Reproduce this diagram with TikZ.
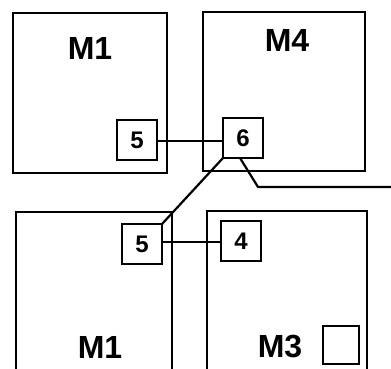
\documentclass[tikz,border=0pt]{standalone}
\usepackage{fontspec}
\setmainfont{Liberation Sans}
\begin{document}
\begin{tikzpicture}[x=1pt,y=-1pt,line width=2.6pt,
  modbox/.style={draw, rectangle, inner sep=0pt, outer sep=0pt, anchor=north west},
  openbox/.style={rectangle, inner sep=0pt, outer sep=0pt, anchor=north west},
  port/.style={draw, rectangle, inner sep=0pt, outer sep=0pt, minimum width=40pt, minimum height=40pt, font=\bfseries\fontsize{24}{24}\selectfont},
  modlabel/.style={inner sep=0pt, font=\bfseries\fontsize{32}{32}\selectfont},
  wire/.style={line width=2.2pt}]
\useasboundingbox (0,0) rectangle (391,369);
% top modules
\node[modbox, minimum width=154pt, minimum height=160pt] (m1a) at (13,13) {};
\node[modbox, minimum width=162pt, minimum height=159pt] (m4) at (203,12) {};
% bottom modules (open at the bottom)
\node[openbox, minimum width=156pt, minimum height=160pt] (m1b) at (16,212) {};
\node[openbox, minimum width=160pt, minimum height=161pt] (m3) at (207,211) {};
\draw (m1b.south west) |- (m1b.north east) -- (m1b.south east);
\draw (m3.south west) |- (m3.north east) -- (m3.south east);
% labels
\node[modlabel] (l1a) at (90,48) {M1};
\node[modlabel] (l4) at (287,40) {M4};
\node[modlabel] (l1b) at (100,347) {M1};
\node[modlabel] (l3) at (280,347) {M3};
% ports
\node[port] (p5a) at (137,140) {5};
\node[port] (p6) at (243,138) {6};
\node[port] (p5b) at (142,244) {5};
\node[port] (p4) at (241,241) {4};
\node[draw, rectangle, inner sep=0pt, minimum width=36pt, minimum height=38pt, line width=2pt] (sq) at (341,345) {};
% wires
\draw[wire] (p5a.east |- 0,141) -- (p6.west |- 0,141);
\draw[wire] (p5b.east |- 0,242) -- (p4.west |- 0,242);
\draw[wire] (p6.south west) -- (p5b.north east);
\coordinate (bend) at (258,187);
\coordinate (out) at (391,187);
\draw[wire] (p6.south -| 240,0) -- (bend) -- (out);
\end{tikzpicture}
\end{document}
